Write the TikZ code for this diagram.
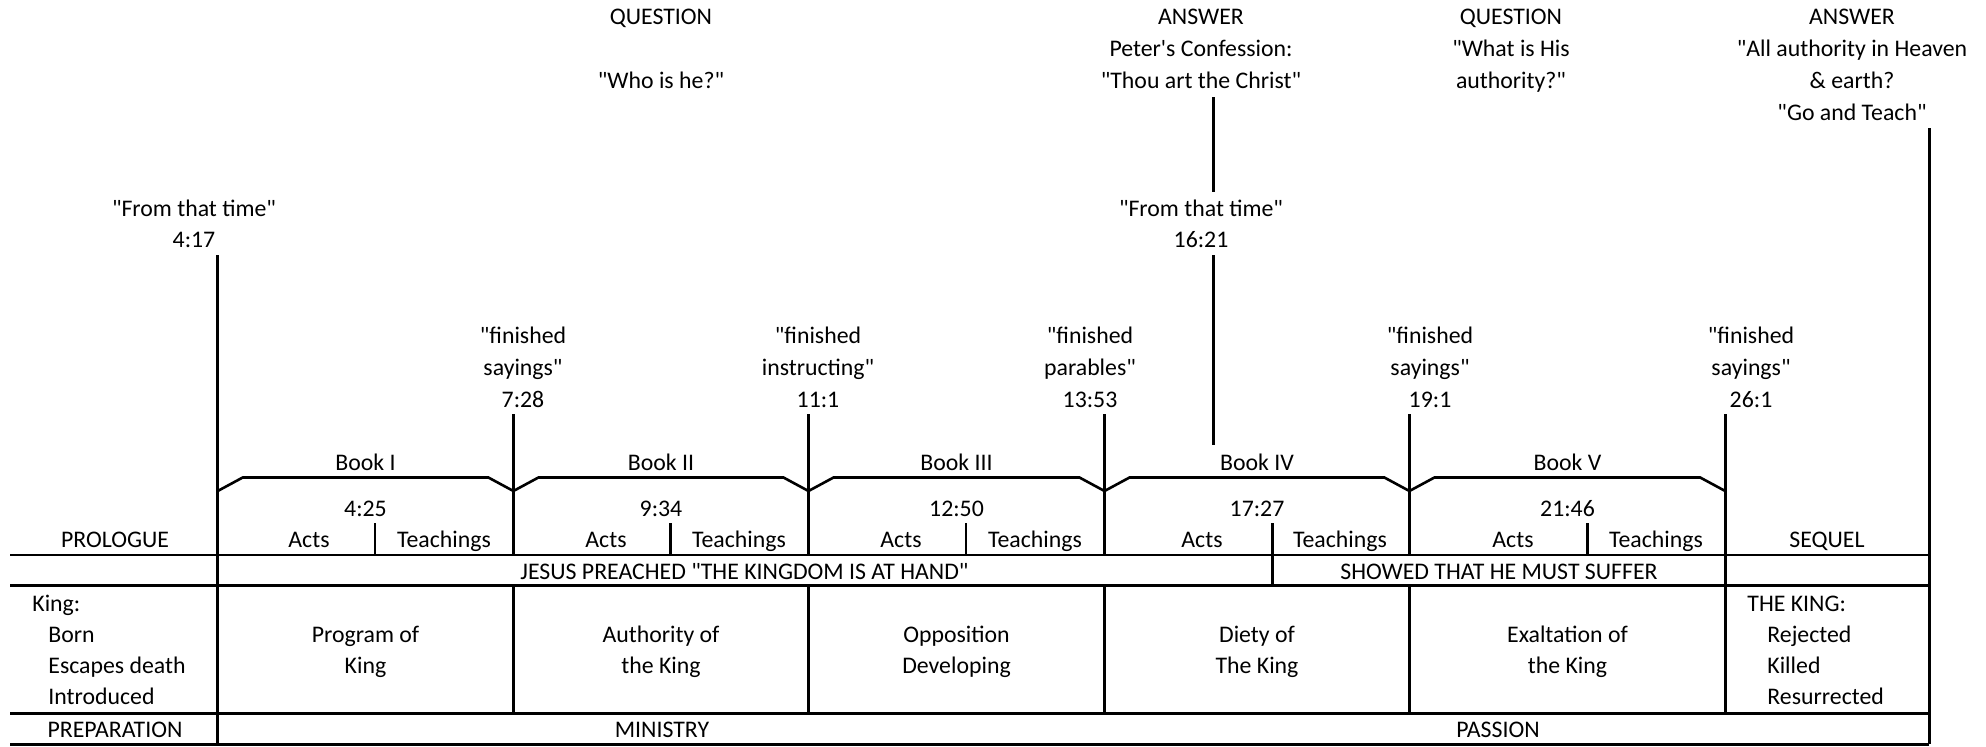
\documentclass[tikz,border=0pt]{standalone}
\usepackage{fontspec}
\setmainfont{Carlito}
\newcommand{\dq}{\textquotedbl}
\begin{document}
\begin{tikzpicture}[x=0.5pt,y=-0.5pt,
  rule/.style={line width=1.3pt, line cap=butt},
  lbl/.style={anchor=base, inner sep=0pt, font=\fontsize{11.9}{16}\selectfont},
  lblw/.style={lbl, anchor=base west}]
\useasboundingbox (0,0) rectangle (1986,746);

% ---------- top labels ----------
\node[lbl] (q1a) at (661,24) {QUESTION};
\node[lbl] (q1b) at (661,88) {\dq Who is he?\dq};
\node[lbl] (a1a) at (1201,24) {ANSWER};
\node[lbl] (a1b) at (1201,56) {Peter\textquotesingle s Confession:};
\node[lbl] (a1c) at (1201,88) {\dq Thou art the Christ\dq};
\node[lbl] (q2a) at (1511,24) {QUESTION};
\node[lbl] (q2b) at (1511,56) {\dq What is His};
\node[lbl] (q2c) at (1511,88) {authority?\dq};
\node[lbl] (a2a) at (1852,24) {ANSWER};
\node[lbl] (a2b) at (1852,56) {\dq All authority in Heaven};
\node[lbl] (a2c) at (1852,88) {\& earth?};
\node[lbl] (a2d) at (1852,120) {\dq Go and Teach\dq};

\node[lbl] (f1a) at (194,216) {\dq From that time\dq};
\node[lbl] (f1b) at (194,247) {4:17};
\node[lbl] (f2a) at (1201,216) {\dq From that time\dq};
\node[lbl] (f2b) at (1201,247) {16:21};

\node[lbl] (e1a) at (523,343) {\dq finished};
\node[lbl] (e1b) at (523,375) {sayings\dq};
\node[lbl] (e1c) at (523,407) {7:28};
\node[lbl] (e2a) at (818,343) {\dq finished};
\node[lbl] (e2b) at (818,375) {instructing\dq};
\node[lbl] (e2c) at (818,407) {11:1};
\node[lbl] (e3a) at (1090,343) {\dq finished};
\node[lbl] (e3b) at (1090,375) {parables\dq};
\node[lbl] (e3c) at (1090,407) {13:53};
\node[lbl] (e4a) at (1430,343) {\dq finished};
\node[lbl] (e4b) at (1430,375) {sayings\dq};
\node[lbl] (e4c) at (1430,407) {19:1};
\node[lbl] (e5a) at (1751,343) {\dq finished};
\node[lbl] (e5b) at (1751,375) {sayings\dq};
\node[lbl] (e5c) at (1751,407) {26:1};

% ---------- books ----------
\node[lbl] (bk1) at (365.5,470) {Book I};
\node[lbl] (bk2) at (661,470) {Book II};
\node[lbl] (bk3) at (956.5,470) {Book III};
\node[lbl] (bk4) at (1257,470) {Book IV};
\node[lbl] (bk5) at (1567.5,470) {Book V};

\node[lbl] (r1) at (365.5,516) {4:25};
\node[lbl] (r2) at (661,516) {9:34};
\node[lbl] (r3) at (956.5,516) {12:50};
\node[lbl] (r4) at (1257,516) {17:27};
\node[lbl] (r5) at (1567.5,516) {21:46};

\node[lbl] (pro) at (115,547) {PROLOGUE};
\node[lbl] (ac1) at (309,547) {Acts};
\node[lbl] (te1) at (444,547) {Teachings};
\node[lbl] (ac2) at (606,547) {Acts};
\node[lbl] (te2) at (739,547) {Teachings};
\node[lbl] (ac3) at (901,547) {Acts};
\node[lbl] (te3) at (1035,547) {Teachings};
\node[lbl] (ac4) at (1202,547) {Acts};
\node[lbl] (te4) at (1340,547) {Teachings};
\node[lbl] (ac5) at (1513,547) {Acts};
\node[lbl] (te5) at (1656,547) {Teachings};
\node[lbl] (seq) at (1827,547) {SEQUEL};

\node[lbl] (jp) at (744.5,579) {JESUS PREACHED \dq THE KINGDOM IS AT HAND\dq};
\node[lbl] (sh) at (1499,579) {SHOWED THAT HE MUST SUFFER};

% ---------- themes ----------
\node[lblw] (k0) at (32,611) {King:};
\node[lblw] (k1) at (48,642) {Born};
\node[lblw] (k2) at (48,673) {Escapes death};
\node[lblw] (k3) at (48,704) {Introduced};

\node[lbl] (t1a) at (365.5,642) {Program of};
\node[lbl] (t1b) at (365.5,673) {King};
\node[lbl] (t2a) at (661,642) {Authority of};
\node[lbl] (t2b) at (661,673) {the King};
\node[lbl] (t3a) at (956.5,642) {Opposition};
\node[lbl] (t3b) at (956.5,673) {Developing};
\node[lbl] (t4a) at (1257,642) {Diety of};
\node[lbl] (t4b) at (1257,673) {The King};
\node[lbl] (t5a) at (1567.5,642) {Exaltation of};
\node[lbl] (t5b) at (1567.5,673) {the King};

\node[lblw] (s0) at (1747,611) {THE KING:};
\node[lblw] (s1) at (1767,642) {Rejected};
\node[lblw] (s2) at (1767,673) {Killed};
\node[lblw] (s3) at (1767,704) {Resurrected};

\node[lbl] (prep) at (115,737) {PREPARATION};
\node[lbl] (min) at (662,737) {MINISTRY};
\node[lbl] (pas) at (1498,737) {PASSION};

% ---------- horizontal rules ----------
\coordinate (hL1) at (10,555);   \coordinate (hR1) at (1929.3,555);
\coordinate (hL2) at (10,585.5); \coordinate (hR2) at (1929.3,585.5);
\coordinate (hL3) at (10,713.5); \coordinate (hR3) at (1929.3,713.5);
\coordinate (hL4) at (10,744.3); \coordinate (hR4) at (1929.3,744.3);
\draw[rule] (hL1) -- (hR1);
\draw[rule] (hL2) -- (hR2);
\draw[rule] (hL3) -- (hR3);
\draw[rule] (hL4) -- (hR4);

% ---------- vertical rules ----------
\coordinate (v0t) at (217.7,255); \coordinate (v0b) at (217.7,744.3);
\draw[rule] (v0t) -- (v0b);
\foreach \x/\n in {513.4/1, 808.5/2, 1104.5/3, 1409.4/4}{
  \coordinate (bt\n) at (\x,414);
  \coordinate (bm\n) at (\x,555);
  \coordinate (bn\n) at (\x,585.5);
  \coordinate (bb\n) at (\x,713.5);
  \draw[rule] (bt\n) -- (bm\n);
  \draw[rule] (bn\n) -- (bb\n);
}
\coordinate (v5t) at (1725.2,414); \coordinate (v5b) at (1725.2,713.5);
\draw[rule] (v5t) -- (v5b);
\coordinate (v6t) at (1929.3,128.3); \coordinate (v6b) at (1929.3,744.3);
\draw[rule] (v6t) -- (v6b);
% 16:21 line
\coordinate (p1t) at (1213.3,97); \coordinate (p1b) at (1213.3,192);
\coordinate (p2t) at (1213.3,255); \coordinate (p2b) at (1213.3,445);
\draw[rule] (p1t) -- (p1b);
\draw[rule] (p2t) -- (p2b);

% Acts / Teachings dividers
\foreach \x/\n in {375/1, 670.5/2, 966/3, 1587.5/5}{
  \coordinate (dt\n) at (\x,523);
  \coordinate (db\n) at (\x,555);
  \draw[rule] (dt\n) -- (db\n);
}
\coordinate (dt4) at (1272.3,523); \coordinate (db4) at (1272.3,585.5);
\draw[rule] (dt4) -- (db4);

% book brackets
\foreach \a/\b in {217.7/513.4, 513.4/808.5, 808.5/1104.5, 1104.5/1409.4, 1409.4/1725.2}{
  \draw[rule] (\a,491) -- ({\a+25},477.5) -- ({\b-25},477.5) -- (\b,491);
}
\end{tikzpicture}
\end{document}
